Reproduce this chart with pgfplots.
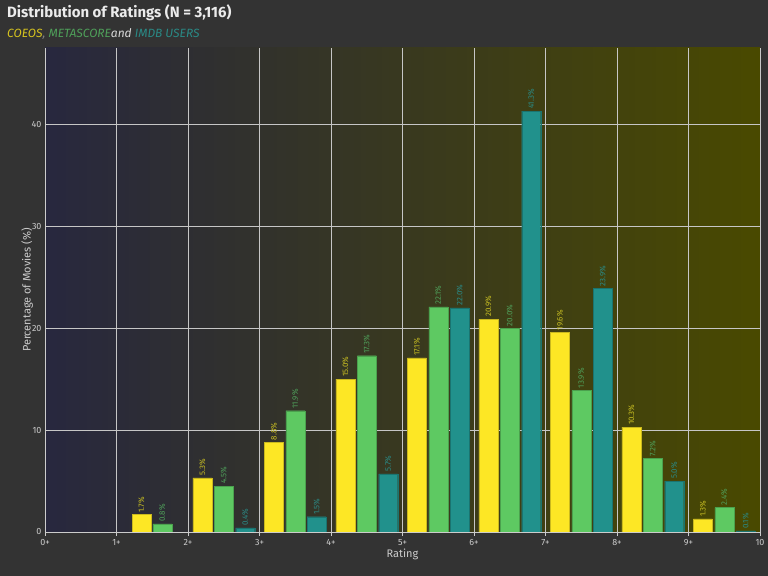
\documentclass[border=0pt]{standalone}
\usepackage{pgfplots}
\pgfplotsset{compat=1.18}
\usepackage{fontspec}
\setmainfont{Fira Sans}
\definecolor{bgc}{HTML}{333333}
\definecolor{cy}{HTML}{FDE725}
\definecolor{cg}{HTML}{5EC962}
\definecolor{ct}{HTML}{21918C}
\definecolor{ly}{HTML}{C8BE22}
\definecolor{lg}{HTML}{4FA05A}
\definecolor{lt}{HTML}{2A8A86}
\begin{document}
\begin{tikzpicture}[x=1bp,y=1bp]
\fill[bgc] (0,0) rectangle (768,576);
\node[anchor=base west,font=\fontsize{15}{18}\selectfont\bfseries,text=white!92!black,inner sep=0] at (7,558) {Distribution of Ratings (N = 3,116)};
\node[anchor=base west,font=\fontsize{12}{14}\selectfont\itshape,inner sep=0] at (7,538) {\textcolor{cy!85!black}{COEOS}\textcolor{gray}{, }\textcolor{lg}{METASCORE}\textcolor{white!85!black}{ and }\textcolor{lt}{IMDB USERS}};
\begin{axis}[at={(45bp,44bp)},anchor=south west,width=715bp,height=484bp,scale only axis,
  xmin=0,xmax=10,ymin=0,ymax=47.5,
  axis background/.style={left color=blue!20!black!75!gray!60!bgc, right color=olive!40!bgc!90!black},
  axis line style={draw=white!80!black},
  axis x line*=bottom, axis y line*=left,
  grid=major, grid style={white!55!gray,line width=0.8pt},
  xtick={0,...,10}, xticklabels={0+,1+,2+,3+,4+,5+,6+,7+,8+,9+,10},
  ytick={0,10,20,30,40},
  tick style={white!80!black},
  tick label style={font=\fontsize{9}{10}\selectfont,text=white!80!black},
  /pgf/number format/assume math mode=true,
  xlabel={Rating}, ylabel={Percentage of Movies (\%)},
  label style={font=\fontsize{11}{12}\selectfont,text=white!80!black},
  xlabel style={yshift=4pt}, ylabel style={yshift=-8pt},
  ybar, bar width=19bp, bar shift=0pt,
  nodes near coords={\pgfmathprintnumber[fixed,fixed zerofill,precision=1]{\pgfplotspointmeta}\%},
  every node near coord/.append style={rotate=90,anchor=west,font=\fontsize{8}{9}\selectfont,inner sep=2pt},
]
\addplot[fill=cy,draw=cy!80!black,every node near coord/.append style={text=ly}] coordinates {(1.35,1.7)(2.2,5.3)(3.2,8.8)(4.2,15.0)(5.2,17.1)(6.2,20.9)(7.2,19.6)(8.2,10.3)(9.2,1.3)};
\addplot[fill=cg,draw=cg!80!black,every node near coord/.append style={text=lg}] coordinates {(1.64,0.8)(2.5,4.5)(3.5,11.9)(4.5,17.3)(5.5,22.1)(6.5,20.0)(7.5,13.9)(8.5,7.2)(9.5,2.4)};
\addplot[fill=ct,draw=ct!80!black,every node near coord/.append style={text=lt}] coordinates {(2.8,0.4)(3.8,1.5)(4.8,5.7)(5.8,22.0)(6.8,41.3)(7.8,23.9)(8.8,5.0)(9.8,0.1)};
\end{axis}
\end{tikzpicture}
\end{document}
